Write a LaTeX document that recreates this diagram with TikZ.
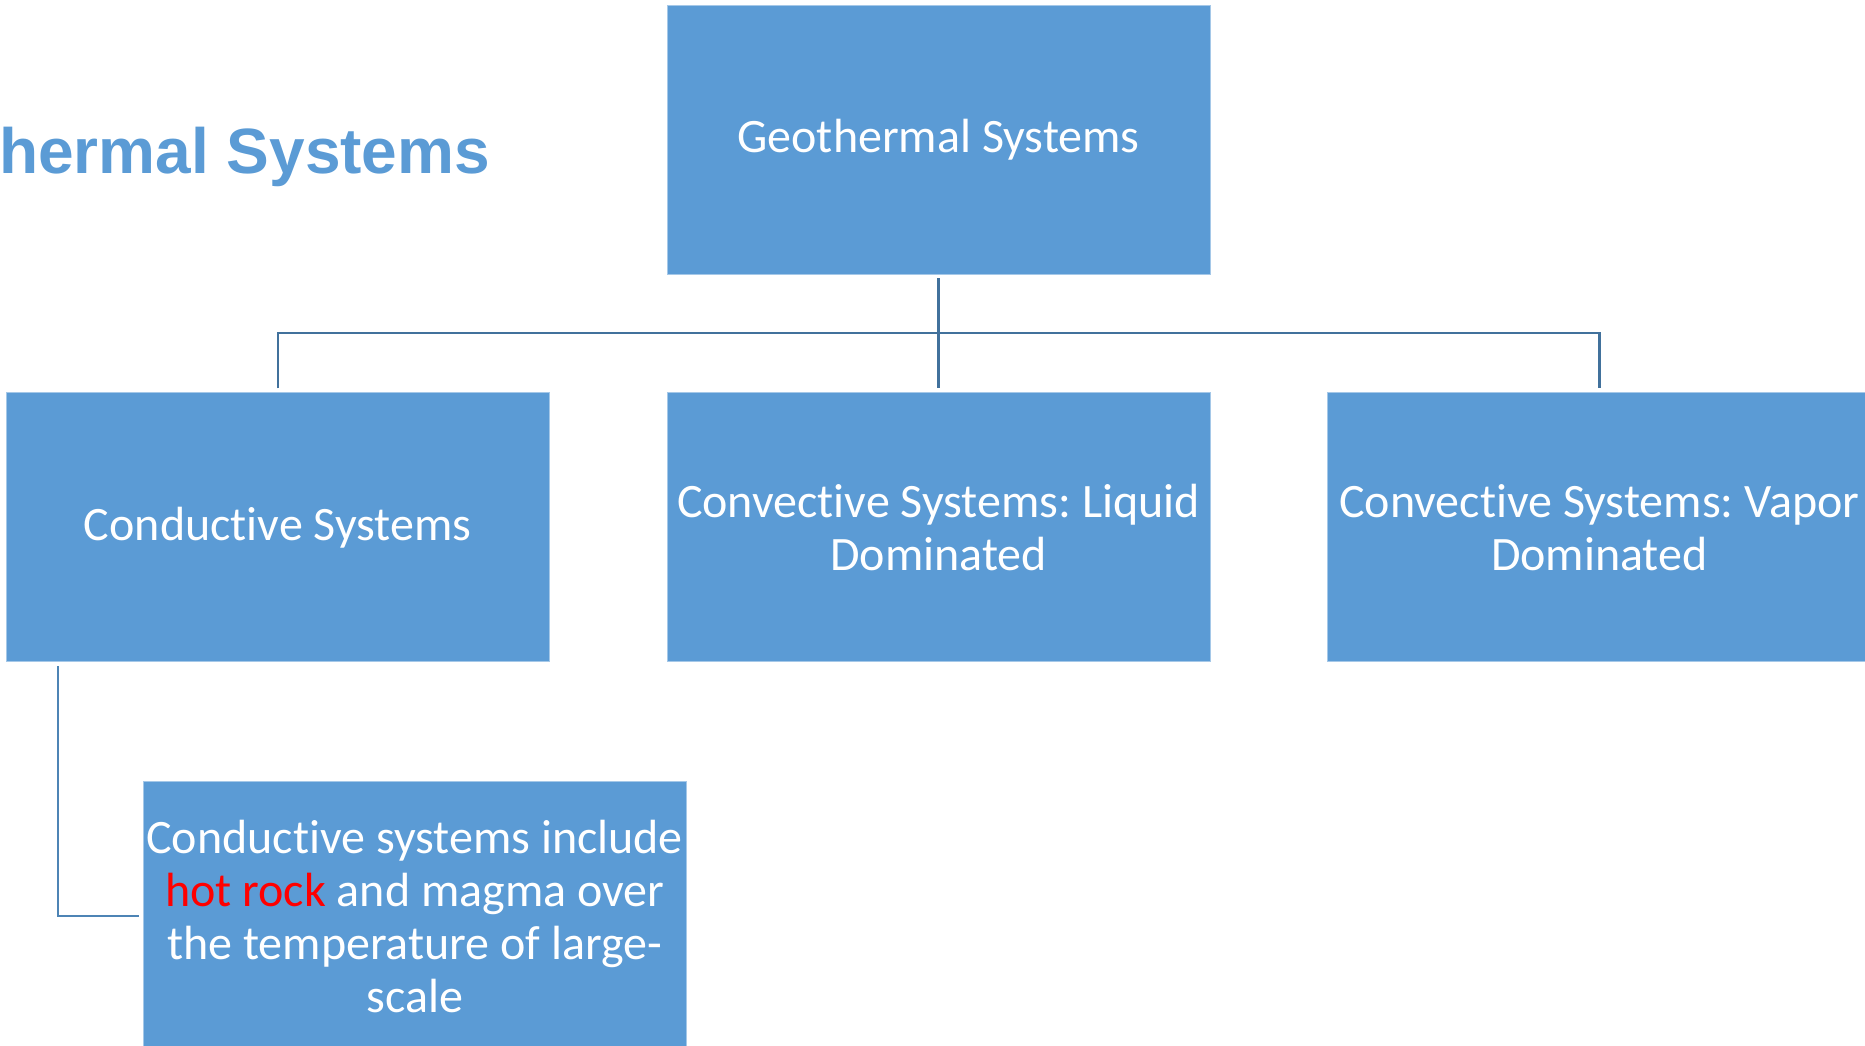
\documentclass[tikz,border=0pt]{standalone}
\usepackage{fontspec}
\usetikzlibrary{positioning}
\newfontfamily\boxfont[Ligatures=NoCommon]{Carlito}
\newfontfamily\headfont{Liberation Sans}
\definecolor{boxblue}{HTML}{5B9BD5}
\definecolor{lineblue}{HTML}{41719C}
\definecolor{hotred}{HTML}{FF0000}
\frenchspacing

\begin{document}
\begin{tikzpicture}[x=1pt,y=1pt,node distance=117pt and 117pt,
  sysbox/.style={draw=boxblue!55!white, line width=0.8pt, fill=boxblue, text=white,
    minimum width=543pt, minimum height=269pt, inner xsep=0pt, inner ysep=4pt,
    align=center, font=\boxfont\fontsize{48pt}{53pt}\selectfont},
  link/.style={draw=lineblue, line width=2.4pt, shorten <=4pt, shorten >=4pt},
  sublink/.style={draw=boxblue!85!black, line width=2.2pt, shorten <=4pt, shorten >=4pt}]
\useasboundingbox (0,0) rectangle (1865,1046);
\clip (0,0) rectangle (1865,1046);

\node[anchor=base west, inner sep=0pt, text=boxblue,
  font=\headfont\bfseries\fontsize{64pt}{70pt}\selectfont] (title) at (-1,872) {hermal Systems};

\node[sysbox] (geo) at (938.5,906.5) {Geothermal Systems};
\node[sysbox, below=118pt of geo] (liquid) {Convective Systems: Liquid\\ Dominated};
\node[sysbox, left=of liquid] (conductive) {Conductive Systems};
\node[sysbox, right=of liquid] (vapor) {Convective Systems: Vapor\\ Dominated};
\node[sysbox, below=119pt of conductive.south west, anchor=north west, xshift=137pt] (detail)
  {Conductive systems include\\ \textcolor{hotred}{hot rock} and magma over\\ the temperature of large-\\ scale};

% tree connectors
\coordinate (bus) at (938.5,713);
\draw[link] (geo.south) -- (liquid.north);
\draw[link] (conductive.north) |- (bus) -| (vapor.north);
\draw[sublink] ([xshift=52pt]conductive.south west) |- (detail.west);
\end{tikzpicture}
\end{document}
